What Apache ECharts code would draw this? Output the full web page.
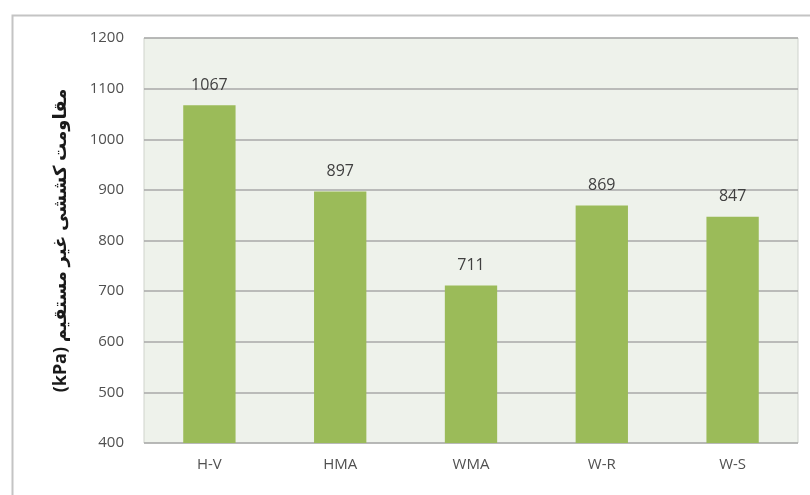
<!DOCTYPE html>
<html><head><meta charset="utf-8">
<script src="https://cdn.jsdelivr.net/npm/echarts@6/dist/echarts.min.js"></script>
<style>html,body{margin:0;padding:0;background:#fff}#c{width:810px;height:495px}</style>
</head><body><div id="c"></div>
<script>
const categories = ['H-V', 'HMA', 'WMA', 'W-R', 'W-S'];
const values = [1067, 897, 711, 869, 847];
const yTicks = [400, 500, 600, 700, 800, 900, 1000, 1100, 1200];
const yTitle = '(kPa) مقاومت کششی غیر مستقیم';

const chart = echarts.init(document.getElementById('c'), null, {renderer: 'canvas'});
chart.setOption({
  animation: false,
  backgroundColor: '#ffffff',
  graphic: [{
    type: 'rect', left: 10, top: 13, z: -1,
    shape: {width: 820, height: 500},
    style: {fill: 'none', stroke: '#c4c4c4', lineWidth: 2}
  }],
  grid: {left: 144, right: 12, top: 38, bottom: 52, show: true,
    backgroundColor: '#eef2eb', borderColor: '#cfd3cc', borderWidth: 1},
  xAxis: {
    type: 'category', data: categories,
    axisLine: {show: false}, axisTick: {show: false},
    axisLabel: {color: '#505050', fontSize: 15, fontFamily: 'Open Sans, DejaVu Sans', margin: 14}
  },
  yAxis: {
    type: 'value', min: yTicks[0], max: yTicks[yTicks.length - 1], interval: 100,
    name: yTitle, nameLocation: 'middle', nameGap: 74, nameRotate: 90,
    nameTextStyle: {fontSize: 18, fontWeight: 'bold', color: '#1a1a1a', fontFamily: 'Noto Sans, DejaVu Sans'},
    axisLine: {show: false}, axisTick: {show: false},
    axisLabel: {color: '#505050', fontSize: 15, fontFamily: 'Open Sans, DejaVu Sans', margin: 20,
      formatter: function (v) { return String(v); }},
    splitLine: {lineStyle: {color: '#a8a8a8', width: 1.5}}
  },
  series: [{
    type: 'bar', data: values, barWidth: '40%',
    itemStyle: {color: '#9bbb59'},
    label: {show: true, position: 'top', distance: 12, color: '#404040', fontSize: 16,
      fontFamily: 'Open Sans, DejaVu Sans'}
  }]
});
</script></body></html>
